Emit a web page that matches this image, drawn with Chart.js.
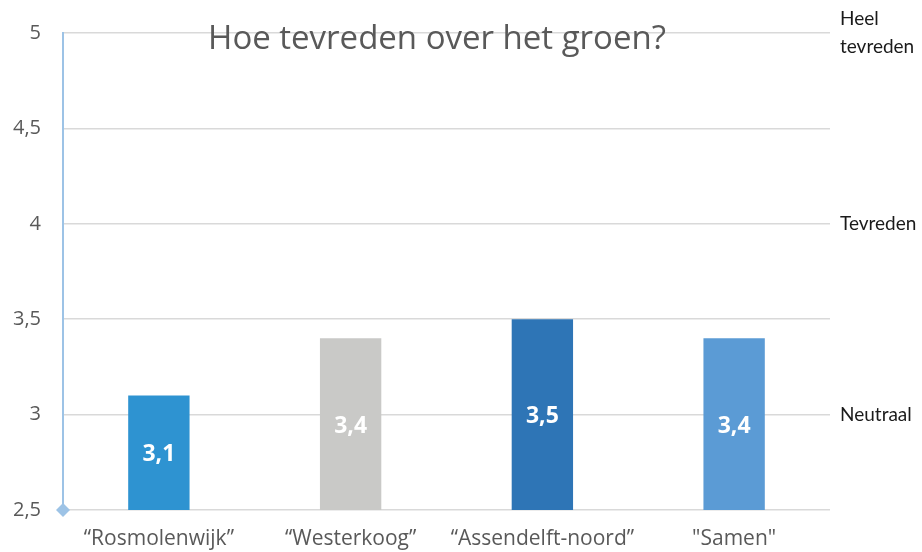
<!DOCTYPE html>
<html>
<head>
<meta charset="utf-8">
<script src="https://cdn.jsdelivr.net/npm/chart.js@4"></script>
<style>
  html, body { margin: 0; padding: 0; background: #fff; }
  #wrap { width: 922px; height: 552px; }
</style>
</head>
<body>
<div id="wrap"><canvas id="barChart" width="922" height="552"></canvas></div>
<script>
var categories = ['\u201cRosmolenwijk\u201d', '\u201cWesterkoog\u201d', '\u201cAssendelft-noord\u201d', '"Samen"'];
var scores = [3.1, 3.4, 3.5, 3.4];
var barColors = ['#2E93D1', '#C9C9C7', '#2E75B6', '#5B9BD5'];
var scaleLabels = { 3: 'Neutraal', 4: 'Tevreden', 5: ['Heel', 'tevreden'] };
var chartTitle = 'Hoe tevreden over het groen?';

function comma(v) {
  return String(v).replace('.', ',');
}

// title + value labels + the little diamond at the axis origin
var extras = {
  id: 'extras',
  afterDraw: function (chart) {
    var ctx = chart.ctx;
    var area = chart.chartArea;
    var yScale = chart.scales.y;
    var xScale = chart.scales.x;
    var base = yScale.getPixelForValue(2.5);

    ctx.save();
    ctx.fillStyle = '#ffffff';
    ctx.font = 'bold 23px "Open Sans"';
    ctx.textAlign = 'center';
    ctx.textBaseline = 'middle';
    scores.forEach(function (v, i) {
      var top = yScale.getPixelForValue(v);
      ctx.fillText(comma(v), xScale.getPixelForValue(i), (top + base) / 2 + 2);
    });

    ctx.fillStyle = '#595959';
    ctx.font = '33px "Open Sans"';
    ctx.fillText(chartTitle, 437, 40);

    var x = area.left;
    ctx.fillStyle = '#9DC3E6';
    ctx.beginPath();
    ctx.moveTo(x, base - 7);
    ctx.lineTo(x + 7, base);
    ctx.lineTo(x, base + 7);
    ctx.lineTo(x - 7, base);
    ctx.closePath();
    ctx.fill();
    ctx.restore();
  }
};

function noPad(s) {
  s.paddingTop = 0;
  s.paddingBottom = 0;
}

var ctx = document.getElementById('barChart').getContext('2d');
var chart = new Chart(ctx, {
  type: 'bar',
  data: {
    labels: categories,
    datasets: [{
      data: scores,
      backgroundColor: barColors,
      borderWidth: 0,
      barPercentage: 0.32,
      categoryPercentage: 1
    }]
  },
  options: {
    responsive: false,
    animation: false,
    layout: { padding: { top: 33, left: 0, right: 0, bottom: 0 } },
    plugins: {
      legend: { display: false },
      tooltip: { enabled: false }
    },
    scales: {
      x: {
        grid: { display: false },
        border: { display: false },
        ticks: {
          color: '#595959',
          font: { family: 'Open Sans', size: 21 },
          padding: 8,
          maxRotation: 0
        },
        afterFit: function (s) { s.height = 42; s.paddingLeft = 0; s.paddingRight = 0; }
      },
      y: {
        position: 'left',
        min: 2.5,
        max: 5,
        ticks: {
          stepSize: 0.5,
          color: '#595959',
          font: { family: 'Open Sans', size: 20 },
          padding: 22,
          callback: function (v) { return comma(v); }
        },
        grid: { color: '#D9D9D9', lineWidth: 1.5, drawTicks: false },
        border: { color: '#9DC3E6', width: 2 },
        afterFit: function (s) { s.width = 63; noPad(s); }
      },
      y2: {
        position: 'right',
        min: 2.5,
        max: 5,
        ticks: {
          stepSize: 0.5,
          color: '#1a1a1a',
          font: { family: 'Lato', size: 19, lineHeight: 1.45 },
          padding: 10,
          callback: function (v) { return scaleLabels[v] || ''; }
        },
        grid: { display: false, drawTicks: false },
        border: { display: false },
        afterFit: function (s) { s.width = 92; noPad(s); }
      }
    }
  },
  plugins: [extras]
});
</script>
</body>
</html>
